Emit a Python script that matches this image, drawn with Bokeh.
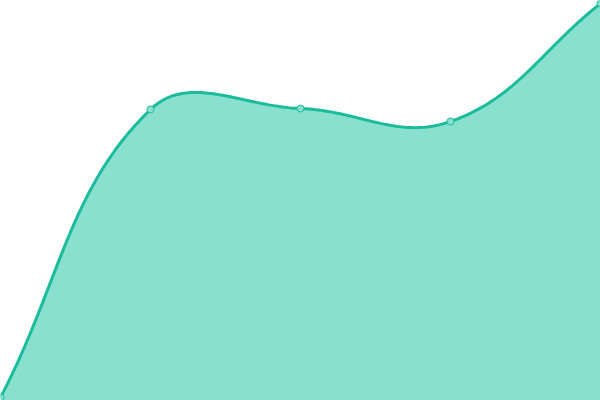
import numpy as np
from bokeh.plotting import figure
from bokeh.models import Range1d
from bokeh.embed import file_html
from bokeh.resources import INLINE

# Data
categories = ["A", "B", "C", "D", "E"]
x_pos = [0, 1, 2, 3, 4]
values = [3, 291, 292, 279, 397]

W, H = 600, 400
XMIN, XMAX = 0, 4
YMIN, YMAX = 0, 400
sx = W / (XMAX - XMIN)
sy = H / (YMAX - YMIN)

# Chart.js-style cardinal spline (tension 0.4) computed in pixel space
TENSION = 0.4
pts = np.array([[x * sx, y * sy] for x, y in zip(x_pos, values)], dtype=float)
n = len(pts)
cp_prev = pts.copy()
cp_next = pts.copy()
for i in range(n):
    prev = pts[i - 1] if i > 0 else pts[i]
    nxt = pts[i + 1] if i < n - 1 else pts[i]
    d01 = np.hypot(*(pts[i] - prev))
    d12 = np.hypot(*(nxt - pts[i]))
    tot = d01 + d12
    fa = TENSION * d01 / tot if tot else 0
    fb = TENSION * d12 / tot if tot else 0
    cp_prev[i] = pts[i] - fa * (nxt - prev)
    cp_next[i] = pts[i] + fb * (nxt - prev)
cp_prev[:, 0] = np.clip(cp_prev[:, 0], 0, W); cp_prev[:, 1] = np.clip(cp_prev[:, 1], 0, H)
cp_next[:, 0] = np.clip(cp_next[:, 0], 0, W); cp_next[:, 1] = np.clip(cp_next[:, 1], 0, H)

cx, cy = [], []
t = np.linspace(0, 1, 60)
for i in range(n - 1):
    p0, p1, p2, p3 = pts[i], cp_next[i], cp_prev[i + 1], pts[i + 1]
    b = ((1 - t) ** 3)[:, None] * p0 + (3 * (1 - t) ** 2 * t)[:, None] * p1 \
        + (3 * (1 - t) * t ** 2)[:, None] * p2 + (t ** 3)[:, None] * p3
    if i > 0:
        b = b[1:]
    cx.extend(b[:, 0] / sx)
    cy.extend(b[:, 1] / sy)

p = figure(width=W, height=H, output_backend="svg", toolbar_location=None,
           x_range=Range1d(XMIN, XMAX), y_range=Range1d(YMIN, YMAX),
           min_border=0, outline_line_color=None)
p.axis.visible = False
p.grid.visible = False
p.background_fill_color = "white"
p.border_fill_color = "white"

p.varea(x=cx, y1=[YMIN] * len(cx), y2=cy, fill_color="#8ae0cf", fill_alpha=1.0)
p.line(cx, cy, line_color="#1abc9c", line_width=3)
p.scatter(x_pos, values, size=7, fill_color="#8ae0cf", line_color="#1abc9c", line_width=1)

open("out.html", "w").write(file_html(p, INLINE))
